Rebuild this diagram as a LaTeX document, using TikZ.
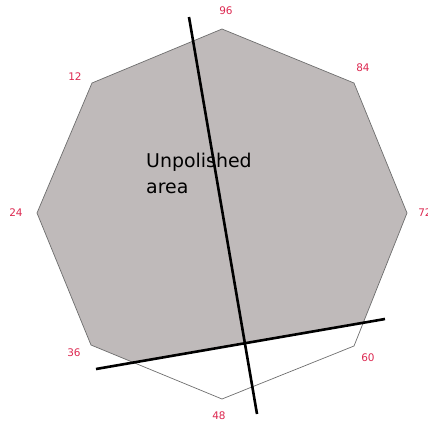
\documentclass[tikz,border=0pt]{standalone}
\usepackage{fontspec}
\setmainfont{DejaVu Sans}
\definecolor{fillgray}{RGB}{191,186,186}
\definecolor{edgegray}{RGB}{110,110,110}
\definecolor{labred}{RGB}{220,40,80}
\begin{document}
\begin{tikzpicture}[x=1bp,y=-1bp,
  lab/.style={text=labred,font=\fontsize{10.5}{12}\selectfont,inner sep=0pt},
  cut/.style={line width=2.6bp,black},
  edge/.style={draw=edgegray,line width=0.7bp}]
\useasboundingbox (0,0) rectangle (428,423);
% vertices
\coordinate (v96) at (222,29);
\coordinate (v84) at (354,83);
\coordinate (v72) at (407,213);
\coordinate (v60) at (354,346);
\coordinate (v48) at (222,399);
\coordinate (v36) at (91,345);
\coordinate (v24) at (37,213);
\coordinate (v12) at (92,83);
% cut line ends
\coordinate (a1) at (189,17);
\coordinate (a2) at (257,414);
\coordinate (b1) at (96,369);
\coordinate (b2) at (385,319);
% gray unpolished fill (above cut b)
\begin{scope}
  \clip (0,0) -- (428,0) -- (428,311.6) -- (0,385.6) -- cycle;
  \fill[fillgray] (v96) -- (v84) -- (v72) -- (v60) -- (v48) -- (v36) -- (v24) -- (v12) -- cycle;
\end{scope}
\draw[edge] (v96) -- (v84) -- (v72) -- (v60) -- (v48) -- (v36) -- (v24) -- (v12) -- cycle;
% labels
\node[lab] (l96) at (226,11) {96};
\node[lab] (l84) at (363,68) {84};
\node[lab] (l72) at (425,213) {72};
\node[lab] (l60) at (368,358) {60};
\node[lab] (l48) at (219,416) {48};
\node[lab] (l36) at (74,353) {36};
\node[lab] (l24) at (16,213) {24};
\node[lab] (l12) at (75,77) {12};
% text
\node[anchor=base west,inner sep=0pt,font=\fontsize{19}{26}\selectfont,align=left] (txt) at (146,193) {Unpolished\\area};
% cut lines
\draw[cut] (a1) -- (a2);
\draw[cut] (b1) -- (b2);
\end{tikzpicture}
\end{document}
